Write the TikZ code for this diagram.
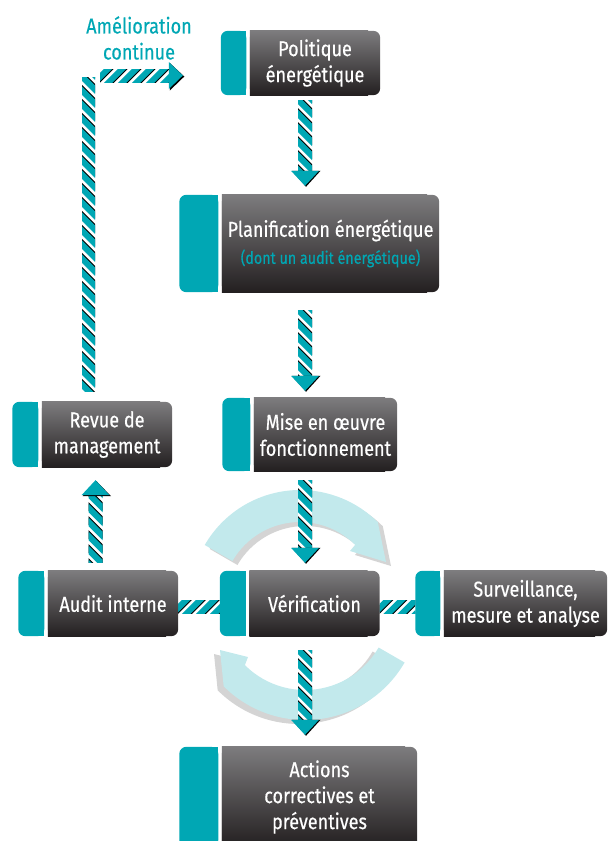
\documentclass[tikz,border=0pt]{standalone}
\usepackage{fontspec}
\setmainfont{Fira Sans}[FakeStretch=0.84,FakeBold=0.4]
\usetikzlibrary{calc}
\definecolor{hteal}{HTML}{00A7B4}
\definecolor{darktop}{HTML}{7D7C7E}
\definecolor{darkbot}{HTML}{231F20}
\definecolor{arccyan}{HTML}{C2E9EC}
\definecolor{arcgray}{HTML}{D4D4D4}
\pgfdeclarelayer{arcs}\pgfdeclarelayer{arrows}\pgfdeclarelayer{boxes}
\pgfsetlayers{arcs,arrows,boxes,main}
\tikzset{
 boxtext/.style={inner sep=0pt, text=white, align=center, font=\fontsize{21.5}{26}\selectfont},
 tealtext/.style={inner sep=0pt, text=hteal, align=center, font=\fontsize{21.5}{26}\selectfont},
 stripeshadow/.style={black, line width=6pt},
 stripe/.style={hteal, line width=6pt},
}
\newcommand\boxshape[2]{%
 \shade[top color=darktop,bottom color=darkbot,rounded corners=7pt] (#1.north west) rectangle (#1.south east);
 \shade[top color=darktop,bottom color=darkbot] (#1.north west) rectangle ($(#1.south east)+(-12,0)$);
 \fill[hteal,rounded corners=7pt] ($(#1.north west)+(-3.5-#2,0)$) rectangle ($(#1.south west)+(-3.5,0)$);
 \fill[hteal] ($(#1.north west)+(-13.5-#2+10+10,0)$) rectangle ($(#1.south west)+(-3.5,0)$);
}
% vertical hatched shaft: #1 top-left, #2 bottom-right
\newcommand\vshaft[2]{%
 \begin{scope}
  \clip (#1) rectangle (#2);
  \fill[white] (#1) rectangle (#2);
  \foreach \k in {-1,...,26}{
   \draw[stripeshadow] ($(#1)+(-6.2,\k*14-8)$) -- ++(28,28);
   \draw[stripe] ($(#1)+(-7.6,\k*14-8)$) -- ++(28,28);
  }
 \end{scope}}
% horizontal hatched shaft: #1 top-left, #2 bottom-right
\newcommand\hshaft[2]{%
 \begin{scope}
  \clip (#1) rectangle (#2);
  \fill[white] (#1) rectangle (#2);
  \foreach \k in {-2,...,8}{
   \draw[stripeshadow] ($(#1)+(\k*14+1.4,22)$) -- ++(30,-30);
   \draw[stripe] ($(#1)+(\k*14,22)$) -- ++(30,-30);
  }
 \end{scope}}
\newcommand\headdown[1]{%
 \fill[black] ($(#1)+(-13,-15)$) -- ($(#1)+(15.5,-15)$) -- ($(#1)+(1,1)$) -- cycle;
 \fill[hteal] ($(#1)+(-14,-15)$) -- ($(#1)+(14,-15)$) -- (#1) -- cycle;}
\newcommand\headup[1]{%
 \fill[black] ($(#1)+(-13,16)$) -- ($(#1)+(15.5,16)$) -- ($(#1)+(1,1)$) -- cycle;
 \fill[hteal] ($(#1)+(-14,15)$) -- ($(#1)+(14,15)$) -- (#1) -- cycle;}
\newcommand\headright[1]{%
 \fill[black] ($(#1)+(-13,-12.5)$) -- ($(#1)+(-13,15)$) -- ($(#1)+(1.5,1)$) -- cycle;
 \fill[hteal] ($(#1)+(-14,-13.5)$) -- ($(#1)+(-14,13.5)$) -- (#1) -- cycle;}
\begin{document}
\begin{tikzpicture}[x=1pt,y=-1pt]
\useasboundingbox (0,0) rectangle (612,841);
% texts / nodes
\node[tealtext] (amel) at (139,38) {Amélioration\\continue};
\node[boxtext, minimum width=130pt, minimum height=64pt] (pol) at (315,63) {Politique\\énergétique};
\node[boxtext, minimum width=217pt, minimum height=97pt] (plan) at (330.5,243.5) {Planification énergétique\\[1pt]{\color{hteal}\fontsize{17}{20}\selectfont (dont un audit énergétique)}};
\node[boxtext, minimum width=130pt, minimum height=65pt] (revue) at (107,434.5) {Revue de\\management};
\node[boxtext, minimum width=143pt, minimum height=73pt] (mise) at (325.5,434.5) {Mise en œuvre\\fonctionnement};
\node[boxtext, minimum width=130pt, minimum height=65pt] (audit) at (113,603.5) {Audit interne};
\node[boxtext, minimum width=130pt, minimum height=65pt] (verif) at (314.5,603.5) {Vérification};
\node[boxtext, minimum width=163pt, minimum height=65pt] (surv) at (525.5,603.5) {Surveillance,\\mesure et analyse};
\node[boxtext, minimum width=195pt, minimum height=100pt] (act) at (319.5,797) {Actions\\correctives et\\préventives};
\coordinate (ax) at (305,0);
\coordinate (bx) at (95.5,0);
\coordinate (cx) at (88.5,75.5);
% boxes
\begin{pgfonlayer}{boxes}
\boxshape{pol}{25.5}
\boxshape{plan}{39}
\boxshape{revue}{26}
\boxshape{mise}{28}
\boxshape{audit}{26}
\boxshape{verif}{26}
\boxshape{surv}{25}
\boxshape{act}{39}
\end{pgfonlayer}
% arcs
\begin{pgfonlayer}{arcs}
\begin{scope}[shift={(5,4)}]
\fill[arcgray] ($(300,600)+(210:110)$) arc[start angle=210,end angle=315,radius=110] -- (386,562) -- (350,551) -- ($(300,600)+(315:78)$) arc[start angle=315,end angle=210,radius=78] -- cycle;
\end{scope}
\fill[arccyan] ($(300,600)+(210:110)$) arc[start angle=210,end angle=315,radius=110] -- (386,562) -- (350,551) -- ($(300,600)+(315:78)$) arc[start angle=315,end angle=210,radius=78] -- cycle;
\begin{scope}[shift={(-6,4)}]
\fill[arcgray] ($(305,605)+(30:115)$) arc[start angle=30,end angle=135,radius=115] -- (220,650) -- (248,657) -- ($(305,605)+(135:85)$) arc[start angle=135,end angle=30,radius=85] -- cycle;
\end{scope}
\fill[arccyan] ($(305,605)+(30:115)$) arc[start angle=30,end angle=135,radius=115] -- (220,650) -- (248,657) -- ($(305,605)+(135:85)$) arc[start angle=135,end angle=30,radius=85] -- cycle;
\end{pgfonlayer}
% arrows
\begin{pgfonlayer}{arrows}
% pol -> plan
\coordinate (t1) at ($(plan.north -| ax)+(0,-9)$);
\vshaft{$(pol.south -| ax)+(-7,5)$}{$(t1)+(7,-14)$}
\headdown{t1}
% plan -> mise
\coordinate (t2) at ($(mise.north -| ax)+(0,-7)$);
\vshaft{$(plan.south -| ax)+(-7,18)$}{$(t2)+(7,-14)$}
\headdown{t2}
% mise -> verif
\coordinate (t3) at ($(verif.north -| ax)+(0,-8)$);
\vshaft{$(mise.south -| ax)+(-7,9)$}{$(t3)+(7,-14)$}
\headdown{t3}
% verif -> act
\coordinate (t4) at ($(act.north -| ax)+(0,-12)$);
\vshaft{$(verif.south -| ax)+(-7,14)$}{$(t4)+(7,-14)$}
\headdown{t4}
% audit -> revue
\coordinate (t5) at ($(revue.south -| bx)+(0,13)$);
\coordinate (s5) at ($(audit.north -| bx)+(7,-8)$);
\vshaft{$(t5)+(-7,14)$}{s5}
\headup{t5}
% revue -> pol
\coordinate (s6) at ($(cx)+(-6.5,1.5)$);
\coordinate (e6) at ($(revue.north -| cx)+(6.5,-10)$);
\vshaft{s6}{e6}
\coordinate (t6) at ($(cx -| pol.west)+(-67,0)$);
\hshaft{$(cx)+(11.5,-6.5)$}{$(t6)+(-13,6.5)$}
\headright{t6}
% audit -- verif -- surv
\hshaft{$(audit.east)+(0,-3.5)$}{$(verif.west)+(-29.5,9.5)$}
\hshaft{$(verif.east)+(0,-3.5)$}{$(surv.west)+(-28.5,9.5)$}
\end{pgfonlayer}
\end{tikzpicture}
\end{document}
